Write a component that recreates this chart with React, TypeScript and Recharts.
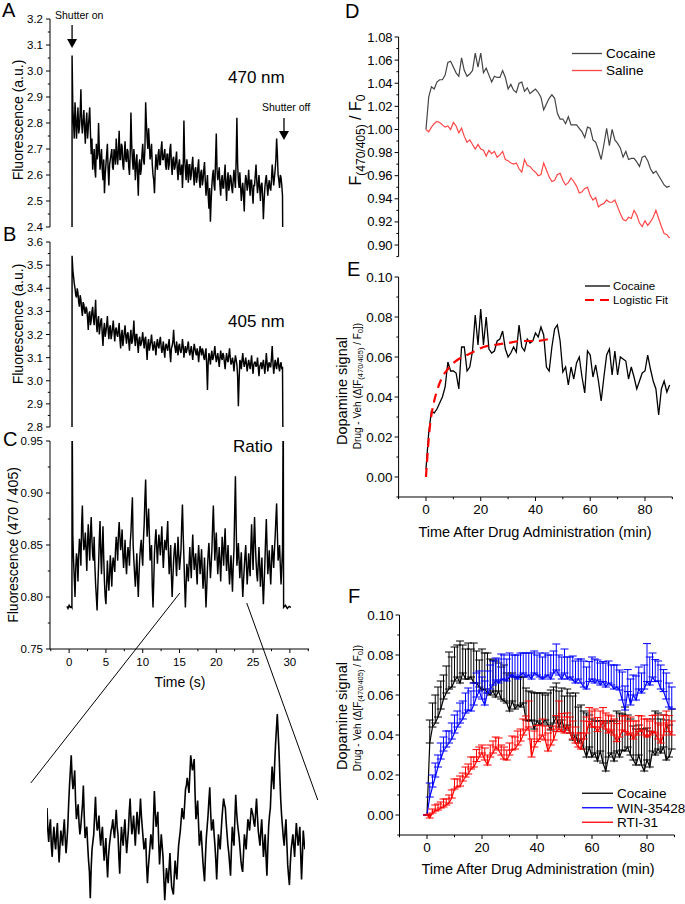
import React from 'react';
import { LineChart, Line, XAxis, YAxis, ReferenceLine, ReferenceDot, ErrorBar, Legend } from 'recharts';

const FONT = '"Liberation Sans", Arial, Helvetica, sans-serif';

// ---------------- Panels A-C : raw traces ----------------
// even samples at 0.4 s + 0.2 s*i, odd samples 0.1 s later
const RAW_T0 = 0.4;
const RAW_DT = 0.2;
const SHUTTER_ON_T = 0.39;
const SHUTTER_OFF_T = 29.1;
const RAW_X_DOMAIN: [number, number] = [-2.6, 32.6];

const trace470 = [
  3.06, 2.80, 2.88, 2.74, 2.86, 2.78, 2.93, 2.76, 2.85, 2.72,
  2.84, 2.78, 2.86, 2.68, 2.62, 2.70, 2.59, 2.66, 2.80, 2.62,
  2.70, 2.58, 2.53, 2.64, 2.72, 2.56, 2.66, 2.70, 2.62, 2.68,
  2.74, 2.64, 2.77, 2.66, 2.71, 2.62, 2.73, 2.65, 2.69, 2.60,
  2.84, 2.66, 2.70, 2.58, 2.68, 2.52, 2.66, 2.62, 2.72, 2.64,
  2.88, 2.74, 2.78, 2.66, 2.72, 2.60, 2.53, 2.68, 2.62, 2.70,
  2.64, 2.73, 2.66, 2.70, 2.62, 2.68, 2.64, 2.72, 2.60, 2.67,
  2.63, 2.69, 2.58, 2.66, 2.61, 2.55, 2.81, 2.62, 2.66, 2.57,
  2.64, 2.60, 2.67, 2.56, 2.63, 2.59, 2.66, 2.55, 2.62, 2.58,
  2.65, 2.52, 2.60, 2.47, 2.42, 2.56, 2.62, 2.54, 2.76, 2.58,
  2.63, 2.52, 2.60, 2.55, 2.64, 2.50, 2.61, 2.56, 2.59, 2.53,
  2.62, 2.55, 2.82, 2.58, 2.61, 2.50, 2.57, 2.46, 2.60, 2.54,
  2.62, 2.52, 2.58, 2.49, 2.56, 2.64, 2.53, 2.60, 2.50, 2.57,
  2.43, 2.55, 2.60, 2.52, 2.58, 2.54, 2.64, 2.56, 2.62, 2.74,
  2.60, 2.55, 2.59, 2.52,
];
const trace470Odd = [
  2.86, 2.74, 2.82, 2.80, 2.76, 2.84, 2.80, 2.81, 2.78, 2.80,
  2.74, 2.82, 2.76, 2.74, 2.66, 2.62, 2.72, 2.68, 2.70, 2.66,
  2.62, 2.66, 2.60, 2.68, 2.62, 2.64, 2.68, 2.63, 2.70, 2.64,
  2.68, 2.70, 2.66, 2.72, 2.64, 2.68, 2.66, 2.70, 2.63, 2.68,
  2.72, 2.62, 2.66, 2.64, 2.60, 2.64, 2.60, 2.68, 2.66, 2.70,
  2.80, 2.70, 2.72, 2.68, 2.64, 2.58, 2.62, 2.64, 2.68, 2.64,
  2.70, 2.66, 2.68, 2.64, 2.68, 2.62, 2.70, 2.64, 2.66, 2.62,
  2.66, 2.62, 2.64, 2.60, 2.64, 2.62, 2.66, 2.58, 2.62, 2.64,
  2.58, 2.64, 2.60, 2.62, 2.57, 2.63, 2.58, 2.61, 2.56, 2.62,
  2.58, 2.56, 2.52, 2.55, 2.50, 2.60, 2.56, 2.66, 2.62, 2.60,
  2.56, 2.58, 2.55, 2.60, 2.56, 2.58, 2.54, 2.60, 2.55, 2.58,
  2.58, 2.66, 2.64, 2.55, 2.56, 2.54, 2.52, 2.56, 2.58, 2.57,
  2.56, 2.58, 2.53, 2.56, 2.60, 2.58, 2.56, 2.55, 2.56, 2.52,
  2.50, 2.58, 2.56, 2.56, 2.55, 2.58, 2.60, 2.59, 2.66, 2.68,
  2.58, 2.60, 2.56,
];
const trace405 = [
  3.54, 3.45, 3.40, 3.36, 3.38, 3.32, 3.35, 3.28, 3.33, 3.29,
  3.31, 3.22, 3.30, 3.26, 3.32, 3.24, 3.35, 3.21, 3.28, 3.23,
  3.27, 3.15, 3.25, 3.21, 3.28, 3.18, 3.24, 3.20, 3.26, 3.17,
  3.23, 3.19, 3.25, 3.14, 3.22, 3.18, 3.24, 3.16, 3.21, 3.13,
  3.22, 3.17, 3.26, 3.15, 3.20, 3.12, 3.19, 3.16, 3.21, 3.14,
  3.19, 3.09, 3.18, 3.15, 3.20, 3.13, 3.17, 3.11, 3.18, 3.14,
  3.19, 3.12, 3.17, 3.10, 3.16, 3.13, 3.18, 3.08, 3.15, 3.22,
  3.14, 3.17, 3.11, 3.16, 3.12, 3.18, 3.10, 3.15, 3.13, 3.17,
  3.11, 3.15, 3.09, 3.16, 3.12, 3.14, 3.08, 3.15, 3.11, 3.13,
  3.09, 3.14, 2.96, 3.12, 3.07, 3.13, 3.10, 3.15, 3.08, 3.12,
  3.06, 3.13, 3.09, 3.11, 3.05, 3.12, 3.08, 3.14, 3.07, 3.10,
  3.04, 3.11, 3.07, 2.89, 3.09, 3.05, 3.12, 3.06, 3.10, 3.04,
  3.09, 3.05, 3.11, 3.03, 3.08, 3.06, 3.10, 3.02, 3.07, 3.05,
  3.09, 3.03, 3.12, 3.04, 3.08, 3.06, 3.15, 3.03, 3.09, 3.05,
  3.10, 3.04, 3.08, 3.06,
];
const trace405Odd = [
  3.48, 3.42, 3.37, 3.40, 3.34, 3.37, 3.31, 3.34, 3.30, 3.32,
  3.27, 3.29, 3.24, 3.30, 3.27, 3.29, 3.25, 3.26, 3.20, 3.26,
  3.20, 3.22, 3.19, 3.24, 3.22, 3.23, 3.18, 3.23, 3.21, 3.22,
  3.20, 3.22, 3.18, 3.20, 3.15, 3.21, 3.19, 3.20, 3.17, 3.19,
  3.16, 3.21, 3.18, 3.20, 3.16, 3.18, 3.15, 3.18, 3.17, 3.18,
  3.14, 3.16, 3.13, 3.17, 3.16, 3.15, 3.14, 3.16, 3.15, 3.17,
  3.15, 3.14, 3.13, 3.15, 3.14, 3.16, 3.12, 3.14, 3.17, 3.16,
  3.12, 3.14, 3.15, 3.13, 3.14, 3.15, 3.13, 3.12, 3.15, 3.13,
  3.13, 3.12, 3.13, 3.14, 3.11, 3.12, 3.12, 3.13, 3.14, 3.10,
  3.12, 3.06, 3.08, 3.10, 3.11, 3.09, 3.12, 3.11, 3.10, 3.09,
  3.10, 3.10, 3.12, 3.08, 3.09, 3.09, 3.11, 3.10, 3.08, 3.08,
  3.08, 3.09, 3.02, 3.00, 3.08, 3.09, 3.08, 3.08, 3.07, 3.07,
  3.07, 3.08, 3.06, 3.07, 3.08, 3.07, 3.06, 3.06, 3.08, 3.07,
  3.06, 3.07, 3.08, 3.07, 3.06, 3.10, 3.08, 3.06, 3.07, 3.08,
  3.06, 3.07, 3.05,
];
const traceRatio = [
  1.0, 0.835, 0.800, 0.842, 0.815, 0.856, 0.830, 0.888, 0.845, 0.862,
  0.825, 0.870, 0.835, 0.877, 0.840, 0.858, 0.812, 0.787, 0.830, 0.873,
  0.822, 0.868, 0.815, 0.793, 0.835, 0.806, 0.840, 0.810, 0.838, 0.824,
  0.858, 0.835, 0.872, 0.845, 0.865, 0.828, 0.855, 0.822, 0.848, 0.830,
  0.862, 0.896, 0.835, 0.810, 0.842, 0.800, 0.838, 0.855, 0.830, 0.870,
  0.913, 0.858, 0.885, 0.835, 0.850, 0.790, 0.842, 0.865, 0.832, 0.860,
  0.840, 0.868, 0.828, 0.855, 0.845, 0.873, 0.822, 0.850, 0.800, 0.835,
  0.852, 0.820, 0.858, 0.826, 0.845, 0.889, 0.838, 0.790, 0.832, 0.815,
  0.848, 0.818, 0.860, 0.826, 0.842, 0.812, 0.850, 0.822, 0.846, 0.808,
  0.838, 0.790, 0.828, 0.852, 0.818, 0.845, 0.888, 0.835, 0.862, 0.822,
  0.848, 0.815, 0.858, 0.830, 0.866, 0.825, 0.850, 0.812, 0.840, 0.805,
  0.845, 0.916, 0.830, 0.852, 0.818, 0.843, 0.800, 0.828, 0.850, 0.812,
  0.842, 0.820, 0.870, 0.826, 0.877, 0.835, 0.815, 0.848, 0.810, 0.838,
  0.793, 0.832, 0.875, 0.822, 0.845, 0.812, 0.850, 0.828, 0.858, 0.890,
  0.835, 0.850, 0.812, 0.846,
];
const traceRatioOdd = [
  0.860, 0.818, 0.828, 0.836, 0.840, 0.848, 0.870, 0.858, 0.850, 0.845,
  0.852, 0.850, 0.862, 0.855, 0.835, 0.830, 0.800, 0.810, 0.855, 0.842,
  0.848, 0.838, 0.800, 0.812, 0.818, 0.822, 0.826, 0.832, 0.830, 0.845,
  0.848, 0.860, 0.858, 0.852, 0.842, 0.840, 0.835, 0.838, 0.842, 0.852,
  0.880, 0.850, 0.822, 0.825, 0.818, 0.822, 0.848, 0.840, 0.855, 0.895,
  0.880, 0.872, 0.860, 0.842, 0.810, 0.815, 0.855, 0.848, 0.848, 0.850,
  0.855, 0.845, 0.842, 0.850, 0.860, 0.842, 0.835, 0.820, 0.818, 0.846,
  0.835, 0.840, 0.840, 0.835, 0.870, 0.860, 0.812, 0.812, 0.825, 0.832,
  0.832, 0.842, 0.840, 0.835, 0.825, 0.835, 0.836, 0.834, 0.825, 0.822,
  0.812, 0.808, 0.842, 0.835, 0.830, 0.868, 0.862, 0.850, 0.840, 0.835,
  0.832, 0.838, 0.845, 0.850, 0.842, 0.838, 0.828, 0.826, 0.822, 0.830,
  0.882, 0.870, 0.840, 0.835, 0.832, 0.818, 0.815, 0.840, 0.830, 0.826,
  0.830, 0.848, 0.846, 0.855, 0.852, 0.822, 0.832, 0.830, 0.825, 0.812,
  0.812, 0.855, 0.848, 0.832, 0.826, 0.832, 0.840, 0.845, 0.875, 0.862,
  0.842, 0.830, 0.828,
];
const closed470 = 2.0;
const closed405 = 2.5;
const ratioPreTimes = [-0.3, -0.15, 0.0, 0.15, 0.3, 0.38];
const ratioPreValues = [0.791, 0.789, 0.792, 0.790, 0.791, 0.790];
const ratioPostTimes = [29.1, 29.15, 29.4, 29.65, 29.9, 30.15];
const ratioPostValues = [1.0, 0.790, 0.792, 0.789, 0.791, 0.790];

// zoomed inset of the ratio trace (arbitrary units 0-100)
const insetTrace = [
  50, 32, 44, 24, 40, 28, 42, 21, 38, 30,
  44, 26, 40, 62, 78, 60, 70, 44, 52, 36,
  46, 62, 34, 40, 22, 2, 28, 36, 56, 38,
  46, 30, 40, 22, 34, 13, 30, 38, 44, 34,
  49, 36, 15, 40, 30, 44, 26, 38, 55, 36,
  46, 30, 48, 36, 55, 40, 28, 34, 10, 24,
  36, 28, 59, 40, 48, 20, 36, 24, 1, 18,
  10, 26, 8, 4, 22, 12, 30, 38, 50, 44,
  60, 66, 58, 78, 70, 76, 44, 54, 30, 38,
  22, 11, 34, 46, 61, 38, 44, 30, 12, 36,
  28, 44, 55, 50, 36, 26, 14, 40, 30, 57,
  42, 34, 22, 16, 36, 28, 44, 38, 50, 46,
  40, 55, 38, 30, 44, 24, 36, 14, 40, 50,
  72, 60, 84, 100, 80, 54, 40, 30, 44, 20,
  9, 28, 36, 24, 42, 30, 40, 12, 38, 28,
];
const insetTraceOdd = [
  38, 40, 30, 34, 32, 36, 30, 30, 34, 38,
  34, 32, 52, 70, 66, 64, 54, 48, 42, 40,
  52, 46, 38, 30, 16, 18, 32, 46, 44, 40,
  36, 36, 30, 28, 22, 24, 34, 40, 38, 42,
  40, 24, 30, 34, 38, 34, 32, 48, 44, 40,
  38, 40, 42, 46, 46, 34, 30, 20, 18, 30,
  32, 44, 48, 44, 32, 28, 30, 12, 10, 14,
  18, 16, 6, 14, 16, 22, 34, 44, 46, 52,
  62, 62, 68, 74, 72, 58, 48, 42, 34, 30,
  16, 24, 40, 54, 48, 40, 36, 22, 24, 32,
  36, 50, 52, 42, 30, 20, 28, 34, 44, 48,
  38, 28, 18, 26, 32, 36, 42, 44, 48, 42,
  48, 46, 34, 38, 34, 30, 24, 28, 46, 62,
  66, 74, 92, 90, 66, 46, 34, 38, 32, 14,
  20, 32, 30, 34, 36, 34, 26, 24, 32,
];

// ---------------- Panel D ----------------
const dCocaine = [
  1.000, 1.028, 1.037, 1.035, 1.041, 1.043, 1.043, 1.047, 1.058, 1.059,
  1.054, 1.049, 1.046, 1.062, 1.051, 1.046, 1.048, 1.051, 1.066, 1.054,
  1.066, 1.049, 1.053, 1.047, 1.041, 1.046, 1.045, 1.045, 1.051, 1.045,
  1.035, 1.039, 1.034, 1.032, 1.040, 1.041, 1.033, 1.036, 1.031, 1.033,
  1.035, 1.032, 1.028, 1.017, 1.022, 1.027, 1.030, 1.027, 1.014, 1.009,
  1.009, 1.005, 1.011, 1.004, 1.004, 1.004, 1.001, 0.998, 0.993, 1.002,
  1.001, 0.991, 0.989, 0.982, 0.974, 0.987, 1.001, 0.986, 1.000, 0.991,
  0.988, 0.984, 0.976, 0.981, 0.974, 0.975, 0.975, 0.972, 0.968, 0.976,
  0.977, 0.973, 0.966, 0.962, 0.964, 0.960, 0.956, 0.952, 0.950, 0.951,
];
const dSaline = [
  1.000, 0.998, 1.002, 1.005, 1.007, 1.006, 1.004, 1.002, 1.003, 1.000,
  1.006, 1.003, 0.997, 1.001, 0.994, 0.989, 0.991, 0.987, 0.983, 0.987,
  0.983, 0.982, 0.977, 0.982, 0.979, 0.981, 0.976, 0.978, 0.981, 0.974,
  0.973, 0.971, 0.970, 0.971, 0.966, 0.963, 0.974, 0.969, 0.968, 0.965,
  0.963, 0.960, 0.961, 0.971, 0.965, 0.959, 0.955, 0.956, 0.961, 0.962,
  0.956, 0.952, 0.954, 0.958, 0.955, 0.951, 0.945, 0.946, 0.949, 0.950,
  0.943, 0.939, 0.941, 0.933, 0.935, 0.936, 0.939, 0.937, 0.937, 0.939,
  0.933, 0.927, 0.922, 0.921, 0.924, 0.923, 0.930, 0.926, 0.919, 0.916,
  0.921, 0.917, 0.920, 0.924, 0.930, 0.923, 0.916, 0.910, 0.909, 0.906,
];

// ---------------- Panel E ----------------
const eCocaine = [
  0.004, 0.022, 0.033, 0.032, 0.034, 0.037, 0.040, 0.045, 0.0575, 0.053,
  0.053, 0.052, 0.044, 0.065, 0.065, 0.053, 0.055, 0.063, 0.081, 0.066,
  0.084, 0.066, 0.080, 0.064, 0.062, 0.063, 0.068, 0.069, 0.073, 0.064,
  0.060, 0.062, 0.065, 0.0625, 0.076, 0.065, 0.063, 0.069, 0.067, 0.068,
  0.072, 0.070, 0.075, 0.071, 0.055, 0.053, 0.065, 0.074, 0.076, 0.068,
  0.0525, 0.055, 0.046, 0.055, 0.049, 0.057, 0.060, 0.050,
  0.042, 0.063, 0.061, 0.050, 0.056, 0.048, 0.038, 0.050, 0.061, 0.064,
  0.051, 0.063, 0.051, 0.060, 0.059, 0.058, 0.049, 0.055, 0.050, 0.044,
  0.048, 0.052, 0.053, 0.061, 0.054, 0.048, 0.044, 0.031, 0.044,
  0.048, 0.0425, 0.046,
];
const fitTimes = [0, 0.5, 1, 1.5, 2, 3, 4, 5, 6, 8, 10, 12, 15, 18, 21, 25, 30, 35, 40, 45];
const fitValues = [0, 0.010, 0.019, 0.026, 0.031, 0.038, 0.043, 0.047, 0.050, 0.054, 0.057, 0.059, 0.061, 0.063, 0.065, 0.066, 0.067, 0.068, 0.068, 0.069];

// ---------------- Panel F ----------------
const fCocaine = [
  0.000, 0.036, 0.044, 0.046, 0.049, 0.053, 0.058, 0.061, 0.063, 0.064,
  0.067, 0.069, 0.066, 0.071, 0.068, 0.068, 0.069, 0.066, 0.066, 0.064,
  0.0625, 0.063, 0.061, 0.060, 0.062, 0.059, 0.062, 0.058, 0.057, 0.056,
  0.052, 0.057, 0.053, 0.055, 0.054, 0.056, 0.0475, 0.047, 0.0475, 0.043,
  0.047, 0.045, 0.046, 0.0475, 0.045, 0.0425, 0.046, 0.049, 0.044, 0.0475,
  0.0425, 0.045, 0.041, 0.0375, 0.040, 0.036, 0.038, 0.033, 0.029, 0.034,
  0.029, 0.031, 0.027, 0.032, 0.026, 0.022, 0.029, 0.031, 0.027, 0.032,
  0.029, 0.0325, 0.032, 0.034, 0.030, 0.0275, 0.025, 0.030, 0.025, 0.022,
  0.0275, 0.024, 0.032, 0.030, 0.033, 0.031, 0.034, 0.0275, 0.029, 0.033,
];
const fCocaineErr = [
  0.000, 0.0115, 0.012, 0.014, 0.015, 0.014, 0.012, 0.0135, 0.0185, 0.015,
  0.017, 0.016, 0.021, 0.014, 0.015, 0.018, 0.014, 0.020, 0.016, 0.0135,
  0.0205, 0.018, 0.020, 0.018, 0.0155, 0.018, 0.014, 0.016, 0.018, 0.015,
  0.018, 0.014, 0.016, 0.014, 0.015, 0.013, 0.016, 0.015, 0.014, 0.018,
  0.014, 0.016, 0.015, 0.0125, 0.016, 0.020, 0.018, 0.017, 0.018, 0.016,
  0.017, 0.018, 0.020, 0.022, 0.021, 0.018, 0.017, 0.019, 0.022, 0.016,
  0.019, 0.016, 0.020, 0.015, 0.021, 0.024, 0.018, 0.016, 0.020, 0.020,
  0.022, 0.018, 0.022, 0.016, 0.018, 0.017, 0.018, 0.015, 0.018, 0.021,
  0.016, 0.018, 0.016, 0.022, 0.018, 0.017, 0.016, 0.020, 0.016, 0.020,
];
const fWin = [
  0.000, 0.009, 0.014, 0.019, 0.024, 0.028, 0.032, 0.034, 0.036, 0.038,
  0.041, 0.044, 0.046, 0.048, 0.051, 0.0525, 0.052, 0.055, 0.059, 0.062,
  0.058, 0.055, 0.061, 0.063, 0.065, 0.0675, 0.066, 0.0675, 0.068, 0.067,
  0.069, 0.070, 0.069, 0.068, 0.070, 0.071, 0.069, 0.070, 0.068, 0.071,
  0.070, 0.069, 0.068, 0.069, 0.070, 0.068, 0.071, 0.0725, 0.070, 0.068,
  0.071, 0.068, 0.069, 0.0675, 0.066, 0.068, 0.066, 0.064, 0.063, 0.0667,
  0.068, 0.066, 0.0675, 0.065, 0.0667, 0.064, 0.066, 0.065, 0.063, 0.064,
  0.0625, 0.0575, 0.0525, 0.0617, 0.055, 0.060, 0.0575, 0.063, 0.061, 0.063,
  0.0667, 0.065, 0.069, 0.0667, 0.067, 0.063, 0.0617, 0.058, 0.054, 0.053,
];
const fWinErr = [
  0.000, 0.007, 0.006, 0.007, 0.006, 0.008, 0.007, 0.008, 0.006, 0.008,
  0.009, 0.008, 0.010, 0.009, 0.010, 0.011, 0.010, 0.011, 0.012, 0.010,
  0.011, 0.012, 0.011, 0.012, 0.012, 0.011, 0.012, 0.013, 0.012, 0.011,
  0.012, 0.010, 0.011, 0.012, 0.011, 0.010, 0.012, 0.011, 0.013, 0.011,
  0.010, 0.012, 0.011, 0.012, 0.010, 0.012, 0.011, 0.013, 0.010, 0.011,
  0.012, 0.011, 0.010, 0.012, 0.011, 0.010, 0.012, 0.013, 0.011, 0.010,
  0.011, 0.012, 0.010, 0.011, 0.010, 0.012, 0.011, 0.010, 0.012, 0.011,
  0.010, 0.014, 0.012, 0.011, 0.013, 0.010, 0.012, 0.011, 0.010, 0.012,
  0.019, 0.014, 0.012, 0.011, 0.010, 0.012, 0.011, 0.013, 0.012, 0.011,
];
const fRti = [
  0.000, -0.0015, 0.001, 0.002, 0.0025, 0.0035, 0.004, 0.005, 0.006, 0.0085,
  0.013, 0.014, 0.0145, 0.017, 0.019, 0.0205, 0.023, 0.024, 0.0267, 0.029,
  0.031, 0.0275, 0.025, 0.029, 0.031, 0.034, 0.0325, 0.030, 0.028, 0.0275,
  0.030, 0.0325, 0.033, 0.035, 0.037, 0.040, 0.0425, 0.044, 0.029, 0.034,
  0.0367, 0.038, 0.040, 0.0375, 0.032, 0.035, 0.0375, 0.0417, 0.043, 0.0417,
  0.041, 0.044, 0.041, 0.038, 0.036, 0.034, 0.033, 0.038, 0.041, 0.0467,
  0.044, 0.044, 0.0417, 0.044, 0.0467, 0.043, 0.041, 0.0425, 0.040, 0.0367,
  0.039, 0.0425, 0.0417, 0.040, 0.041, 0.038, 0.040, 0.0417, 0.0425, 0.040,
  0.039, 0.040, 0.0417, 0.041, 0.038, 0.036, 0.040, 0.046, 0.0417, 0.040,
];
const fRtiErr = [
  0.000, 0.002, 0.002, 0.003, 0.003, 0.003, 0.004, 0.003, 0.004, 0.004,
  0.005, 0.004, 0.005, 0.004, 0.005, 0.005, 0.006, 0.005, 0.006, 0.005,
  0.004, 0.006, 0.005, 0.006, 0.006, 0.005, 0.006, 0.005, 0.006, 0.005,
  0.006, 0.007, 0.006, 0.007, 0.006, 0.008, 0.007, 0.013, 0.009, 0.008,
  0.008, 0.007, 0.008, 0.007, 0.009, 0.008, 0.007, 0.008, 0.014, 0.009,
  0.008, 0.007, 0.008, 0.009, 0.008, 0.007, 0.008, 0.009, 0.008, 0.007,
  0.008, 0.009, 0.007, 0.008, 0.007, 0.008, 0.009, 0.007, 0.008, 0.009,
  0.008, 0.007, 0.008, 0.007, 0.008, 0.009, 0.007, 0.008, 0.007, 0.008,
  0.009, 0.007, 0.008, 0.009, 0.008, 0.009, 0.010, 0.006, 0.008, 0.007,
];

// ---------------- ticks ----------------
const aYTicks = [2.4, 2.45, 2.5, 2.55, 2.6, 2.65, 2.7, 2.75, 2.8, 2.85, 2.9, 2.95, 3.0, 3.05, 3.1, 3.15, 3.2];
const aYMajors = [2.4, 2.5, 2.6, 2.7, 2.8, 2.9, 3.0, 3.1, 3.2];
const bYTicks = [2.8, 2.85, 2.9, 2.95, 3.0, 3.05, 3.1, 3.15, 3.2, 3.25, 3.3, 3.35, 3.4, 3.45, 3.5, 3.55, 3.6];
const bYMajors = [2.8, 2.9, 3.0, 3.1, 3.2, 3.3, 3.4, 3.5, 3.6];
const cYTicks = [0.75, 0.775, 0.8, 0.825, 0.85, 0.875, 0.9, 0.925, 0.95];
const cYMajors = [0.75, 0.8, 0.85, 0.9, 0.95];
const cXTicks = [-2.5, 0, 2.5, 5, 7.5, 10, 12.5, 15, 17.5, 20, 22.5, 25, 27.5, 30, 32.5];
const cXMajors = [0, 5, 10, 15, 20, 25, 30];
const dYTicks = [0.89, 0.9, 0.91, 0.92, 0.93, 0.94, 0.95, 0.96, 0.97, 0.98, 0.99, 1.0, 1.01, 1.02, 1.03, 1.04, 1.05, 1.06, 1.07, 1.08];
const dYMajors = [0.9, 0.92, 0.94, 0.96, 0.98, 1.0, 1.02, 1.04, 1.06, 1.08];
const efYTicks = [-0.01, 0, 0.01, 0.02, 0.03, 0.04, 0.05, 0.06, 0.07, 0.08, 0.09, 0.1];
const efYMajors = [0, 0.02, 0.04, 0.06, 0.08, 0.1];
const efXTicks = [-10, 0, 10, 20, 30, 40, 50, 60, 70, 80, 90];
const efXMajors = [0, 20, 40, 60, 80];

const legendD = [{ name: 'Cocaine', color: '#444444' }, { name: 'Saline', color: '#ff4646' }];
const legendE = [{ name: 'Cocaine', color: '#000000' }, { name: 'Logistic Fit', color: '#ff0000', dash: '9 6', width: 2.2 }];
const legendF = [{ name: 'Cocaine', color: '#000000' }, { name: 'WIN-35428', color: '#0000ff' }, { name: 'RTI-31', color: '#ff0000' }];

// ---------------- rows ----------------
const rawTime = (i: number) => Math.round((RAW_T0 + i * RAW_DT) * 1000) / 1000;
const interleave = (even: number[], odd: number[]) => {
  const out: { t: number; v: number }[] = [];
  even.forEach((v, i) => {
    out.push({ t: rawTime(i), v });
    if (i < odd.length) out.push({ t: Math.round((rawTime(i) + RAW_DT / 2) * 1000) / 1000, v: odd[i] });
  });
  return out;
};
const rows470 = [
  { t: SHUTTER_ON_T, v: closed470 },
  ...interleave(trace470, trace470Odd),
  { t: SHUTTER_OFF_T, v: closed470 },
];
const rows405 = [
  { t: SHUTTER_ON_T, v: closed405 },
  ...interleave(trace405, trace405Odd),
  { t: SHUTTER_OFF_T, v: closed405 },
];
const rowsRatio = [
  ...ratioPreTimes.map((t, i) => ({ t, v: ratioPreValues[i] })),
  ...interleave(traceRatio, traceRatioOdd),
  ...ratioPostTimes.map((t, i) => ({ t, v: ratioPostValues[i] })),
];
const rowsInset: { i: number; v: number }[] = [];
insetTrace.forEach((v, i) => {
  rowsInset.push({ i, v });
  if (i < insetTraceOdd.length) rowsInset.push({ i: i + 0.5, v: insetTraceOdd[i] });
});
const rowsD = dCocaine.map((c, i) => ({ t: i, coc: c, sal: dSaline[i] }));
const rowsE = eCocaine.map((c, i) => ({ t: i, coc: c }));
const rowsFit = fitTimes.map((t, i) => ({ t, fit: fitValues[i] }));
const rowsF = fCocaine.map((c, i) => ({
  t: i,
  coc: c, cocErr: [0, fCocaineErr[i]],
  win: fWin[i], winErr: [0, fWinErr[i]],
  rti: fRti[i], rtiErr: [0, fRtiErr[i]],
}));

// ---------------- helpers ----------------
const isIn = (arr: number[], v: number) => arr.some((m) => Math.abs(m - v) < 1e-9);

const YTick = (props: any) => {
  const { x, y, payload, majors, digits, fontSize, len, gap } = props;
  const v = Number(payload.value);
  const major = isIn(majors, v);
  return (
    <g>
      <line x1={x} x2={x - (major ? len : len * 0.55)} y1={y} y2={y} stroke="#000" strokeWidth={1} />
      {major ? (
        <text x={x - len - gap} y={y + fontSize * 0.35} textAnchor="end" fontSize={fontSize} fontFamily={FONT} fill="#000">
          {v.toFixed(digits)}
        </text>
      ) : null}
    </g>
  );
};

const XTick = (props: any) => {
  const { x, y, payload, majors, fontSize, len, labelDy } = props;
  const v = Number(payload.value);
  const major = isIn(majors, v);
  return (
    <g>
      <line x1={x} x2={x} y1={y} y2={y + (major ? len : len * 0.55)} stroke="#000" strokeWidth={1} />
      {major ? (
        <text x={x} y={y + labelDy} textAnchor="middle" fontSize={fontSize} fontFamily={FONT} fill="#000">
          {String(v)}
        </text>
      ) : null}
    </g>
  );
};

const ArrowHead = (p: any) => (
  <polygon points={`${p.cx - 5},${p.cy - 9} ${p.cx + 5},${p.cy - 9} ${p.cx},${p.cy}`} fill="#000" />
);

const LegendBox = ({ items, fontSize, lineLen, rowH, gap, w }: any) => (
  <svg width={w} height={rowH * items.length} style={{ display: 'block', overflow: 'visible' }}>
    {items.map((it: any, k: number) => {
      const cy = rowH * k + rowH / 2;
      return (
        <g key={it.name}>
          <line x1={0} x2={lineLen} y1={cy} y2={cy} stroke={it.color} strokeWidth={it.width ?? 1.3} strokeDasharray={it.dash} />
          <text x={lineLen + gap} y={cy + fontSize * 0.36} fontSize={fontSize} fontFamily={FONT} fill="#000">{it.name}</text>
        </g>
      );
    })}
  </svg>
);

const axisLine = { stroke: '#000', strokeWidth: 1 };
const TRACE_W = 1.45;

export default function App() {
  return (
    <div style={{ position: 'relative', width: 685, height: 904, background: '#fff', overflow: 'hidden', fontFamily: FONT }}>
      <style>{`html,body{margin:0;padding:0;background:#fff;}`}</style>

      {/* Panel A */}
      <div style={{ position: 'absolute', left: 0, top: 0 }}>
        <LineChart width={321} height={235} data={rows470} margin={{ top: 19, right: 12, bottom: 8, left: 0 }}>
          <XAxis type="number" dataKey="t" domain={RAW_X_DOMAIN} hide allowDataOverflow />
          <YAxis type="number" domain={[2.4, 3.2]} allowDataOverflow ticks={aYTicks} interval={0} width={50}
            tickSize={0} tickMargin={0} tickLine={false} axisLine={axisLine}
            tick={(p: any) => <YTick {...p} majors={aYMajors} digits={1} fontSize={11.5} len={4} gap={3} />} />
          <Line type="linear" dataKey="v" stroke="#000" strokeWidth={TRACE_W} dot={false} activeDot={false} isAnimationActive={false} />
          <ReferenceLine segment={[{ x: 0.4, y: 3.177 }, { x: 0.4, y: 3.115 }]} stroke="#000" strokeWidth={1.3} ifOverflow="visible" />
          <ReferenceDot x={0.4} y={3.0885} r={0} ifOverflow="visible" shape={ArrowHead} />
          <ReferenceLine segment={[{ x: 29.2, y: 2.819 }, { x: 29.2, y: 2.765 }]} stroke="#000" strokeWidth={1.3} ifOverflow="visible" />
          <ReferenceDot x={29.2} y={2.735} r={0} ifOverflow="visible" shape={ArrowHead} />
        </LineChart>
      </div>

      {/* Panel B */}
      <div style={{ position: 'absolute', left: 0, top: 232 }}>
        <LineChart width={321} height={200} data={rows405} margin={{ top: 10, right: 12, bottom: 5, left: 0 }}>
          <XAxis type="number" dataKey="t" domain={RAW_X_DOMAIN} hide allowDataOverflow />
          <YAxis type="number" domain={[2.8, 3.6]} allowDataOverflow ticks={bYTicks} interval={0} width={50}
            tickSize={0} tickMargin={0} tickLine={false} axisLine={axisLine}
            tick={(p: any) => <YTick {...p} majors={bYMajors} digits={1} fontSize={11.5} len={4} gap={3} />} />
          <Line type="linear" dataKey="v" stroke="#000" strokeWidth={TRACE_W} dot={false} activeDot={false} isAnimationActive={false} />
        </LineChart>
      </div>

      {/* Panel C */}
      <div style={{ position: 'absolute', left: 0, top: 432 }}>
        <LineChart width={334} height={373} data={rowsRatio} margin={{ top: 9, right: 25, bottom: 116, left: 0 }}>
          <XAxis type="number" dataKey="t" domain={RAW_X_DOMAIN} allowDataOverflow ticks={cXTicks} interval={0} height={40}
            tickSize={0} tickMargin={0} tickLine={false} axisLine={axisLine}
            tick={(p: any) => <XTick {...p} majors={cXMajors} fontSize={11.5} len={4} labelDy={16.5} />} />
          <YAxis type="number" domain={[0.75, 0.95]} allowDataOverflow ticks={cYTicks} interval={0} width={50}
            tickSize={0} tickMargin={0} tickLine={false} axisLine={axisLine}
            tick={(p: any) => <YTick {...p} majors={cYMajors} digits={2} fontSize={11.5} len={4} gap={3} />} />
          <Line type="linear" dataKey="v" stroke="#000" strokeWidth={TRACE_W} dot={false} activeDot={false} isAnimationActive={false} />
          <ReferenceLine segment={[{ x: 15.04, y: 0.8038 }, { x: -5.2, y: 0.6212 }]} stroke="#000" strokeWidth={1} ifOverflow="visible" />
          <ReferenceLine segment={[{ x: 24.14, y: 0.7942 }, { x: 33.79, y: 0.6048 }]} stroke="#000" strokeWidth={1} ifOverflow="visible" />
        </LineChart>
      </div>

      {/* Inset */}
      <div style={{ position: 'absolute', left: 47, top: 712 }}>
        <LineChart width={258} height={192} data={rowsInset} margin={{ top: 2, right: 0, bottom: 2, left: 0 }}>
          <XAxis type="number" dataKey="i" domain={[0, 149]} hide />
          <YAxis type="number" domain={[0, 100]} hide width={0} />
          <Line type="linear" dataKey="v" stroke="#000" strokeWidth={1.6} dot={false} activeDot={false} isAnimationActive={false} />
        </LineChart>
      </div>

      {/* Panel D */}
      <div style={{ position: 'absolute', left: 340, top: 20 }}>
        <LineChart width={342.35} height={239.6} data={rowsD} margin={{ top: 17, right: 10, bottom: 3, left: 0 }}>
          <XAxis type="number" dataKey="t" domain={[-10, 90]} hide />
          <YAxis type="number" domain={[0.89, 1.08]} ticks={dYTicks} interval={0} width={58.6}
            tickSize={0} tickMargin={0} tickLine={false} axisLine={axisLine}
            tick={(p: any) => <YTick {...p} majors={dYMajors} digits={2} fontSize={13} len={4} gap={2} />} />
          <Line type="linear" dataKey="coc" stroke="#444444" strokeWidth={1.2} dot={false} activeDot={false} isAnimationActive={false} />
          <Line type="linear" dataKey="sal" stroke="#ff4646" strokeWidth={1.2} dot={false} activeDot={false} isAnimationActive={false} />
          <Legend layout="vertical" align="center" verticalAlign="middle"
            wrapperStyle={{ top: 24.5, left: 232, width: 110, height: 34 }}
            content={() => <LegendBox items={legendD} fontSize={13.5} lineLen={30} rowH={17} gap={4} w={110} />} />
        </LineChart>
      </div>

      {/* Panel E */}
      <div style={{ position: 'absolute', left: 340, top: 262 }}>
        <LineChart width={342.35} height={280} data={rowsE} margin={{ top: 15, right: 10, bottom: 0, left: 0 }}>
          <XAxis type="number" dataKey="t" domain={[-10, 90]} ticks={efXTicks} interval={0} height={45}
            tickSize={0} tickMargin={0} tickLine={false} axisLine={axisLine}
            tick={(p: any) => <XTick {...p} majors={efXMajors} fontSize={13.5} len={4} labelDy={17.5} />} />
          <YAxis type="number" domain={[-0.01, 0.1]} ticks={efYTicks} interval={0} width={58.6}
            tickSize={0} tickMargin={0} tickLine={false} axisLine={axisLine}
            tick={(p: any) => <YTick {...p} majors={efYMajors} digits={2} fontSize={13.5} len={4} gap={2} />} />
          <Line type="linear" dataKey="coc" stroke="#000" strokeWidth={1.3} dot={false} activeDot={false} isAnimationActive={false} />
          <Line data={rowsFit} type="monotone" dataKey="fit" stroke="#ff0000" strokeWidth={2.2} strokeDasharray="9 6" dot={false} activeDot={false} isAnimationActive={false} />
          <Legend layout="vertical" align="center" verticalAlign="middle"
            wrapperStyle={{ top: 17, left: 245, width: 100, height: 28 }}
            content={() => <LegendBox items={legendE} fontSize={11.5} lineLen={25} rowH={14} gap={3} w={100} />} />
        </LineChart>
      </div>

      {/* Panel F */}
      <div style={{ position: 'absolute', left: 340, top: 600 }}>
        <LineChart width={344.5} height={280} data={rowsF} margin={{ top: 15, right: 10, bottom: 0, left: 0 }}>
          <XAxis type="number" dataKey="t" domain={[-10, 90]} ticks={efXTicks} interval={0} height={45}
            tickSize={0} tickMargin={0} tickLine={false} axisLine={axisLine}
            tick={(p: any) => <XTick {...p} majors={efXMajors} fontSize={13.5} len={4} labelDy={17} />} />
          <YAxis type="number" domain={[-0.01, 0.1]} ticks={efYTicks} interval={0} width={59.5}
            tickSize={0} tickMargin={0} tickLine={false} axisLine={axisLine}
            tick={(p: any) => <YTick {...p} majors={efYMajors} digits={2} fontSize={13.5} len={4} gap={2} />} />
          <Line type="linear" dataKey="coc" stroke="#000" strokeWidth={1.2} dot={false} activeDot={false} isAnimationActive={false}>
            <ErrorBar dataKey="cocErr" direction="y" width={4} stroke="#000" strokeWidth={1} isAnimationActive={false} />
          </Line>
          <Line type="linear" dataKey="win" stroke="#0000ff" strokeWidth={1.2} dot={false} activeDot={false} isAnimationActive={false}>
            <ErrorBar dataKey="winErr" direction="y" width={4} stroke="#0000ff" strokeWidth={1} isAnimationActive={false} />
          </Line>
          <Line type="linear" dataKey="rti" stroke="#ff0000" strokeWidth={1.2} dot={false} activeDot={false} isAnimationActive={false}>
            <ErrorBar dataKey="rtiErr" direction="y" width={4} stroke="#ff0000" strokeWidth={1} isAnimationActive={false} />
          </Line>
          <Legend layout="vertical" align="center" verticalAlign="middle"
            wrapperStyle={{ top: 185.75, left: 242, width: 110, height: 44 }}
            content={() => <LegendBox items={legendF} fontSize={13.5} lineLen={31} rowH={14.5} gap={4} w={110} />} />
        </LineChart>
      </div>

      {/* text overlay */}
      <svg width={685} height={904} style={{ position: 'absolute', left: 0, top: 0, pointerEvents: 'none' }}>
        <g fontFamily={FONT} fill="#000">
          <text x={2} y={17} fontSize={20}>A</text>
          <text x={3} y={241} fontSize={20}>B</text>
          <text x={3} y={446} fontSize={20}>C</text>
          <text x={345} y={18} fontSize={20}>D</text>
          <text x={347} y={276} fontSize={20}>E</text>
          <text x={348} y={603} fontSize={20}>F</text>

          <text x={55} y={19} fontSize={10.5}>Shutter on</text>
          <text x={262} y={111} fontSize={10.5}>Shutter off</text>
          <text x={228} y={83} fontSize={17}>470 nm</text>
          <text x={228} y={327} fontSize={17}>405 nm</text>
          <text x={233} y={452} fontSize={17}>Ratio</text>

          <text x={23} y={120} fontSize={14} textAnchor="middle" transform="rotate(-90 23 120)">Fluorescence (a.u.)</text>
          <text x={23} y={324} fontSize={14} textAnchor="middle" transform="rotate(-90 23 324)">Fluorescence (a.u.)</text>
          <text x={18} y={545} fontSize={14} textAnchor="middle" transform="rotate(-90 18 545)">Fluorescence (470 / 405)</text>
          <text x={180} y={687} fontSize={14} textAnchor="middle">Time (s)</text>

          <text x={361} y={140} fontSize={16} textAnchor="middle" transform="rotate(-90 361 140)">
            F<tspan fontSize={12} dy={4}>(470/405)</tspan><tspan dy={-4}> / F</tspan><tspan fontSize={12} dy={4}>0</tspan>
          </text>

          <text x={347} y={391} fontSize={14.5} textAnchor="middle" transform="rotate(-90 347 391)">Dopamine signal</text>
          <text x={360.5} y={386} fontSize={10} textAnchor="middle" transform="rotate(-90 360.5 386)">
            Drug - Veh (Δ[F<tspan fontSize={7.5} dy={2.5}>(470/405)</tspan><tspan dy={-2.5}> / F</tspan><tspan fontSize={7.5} dy={2.5}>0</tspan><tspan dy={-2.5}>])</tspan>
          </text>
          <text x={535} y={537} fontSize={14.5} textAnchor="middle">Time After Drug Administration (min)</text>

          <text x={347} y={716} fontSize={14.5} textAnchor="middle" transform="rotate(-90 347 716)">Dopamine signal</text>
          <text x={360.5} y={708} fontSize={10} textAnchor="middle" transform="rotate(-90 360.5 708)">
            Drug - Veh (Δ[F<tspan fontSize={7.5} dy={2.5}>(470/405)</tspan><tspan dy={-2.5}> / F</tspan><tspan fontSize={7.5} dy={2.5}>0</tspan><tspan dy={-2.5}>])</tspan>
          </text>
          <text x={538} y={874} fontSize={14.5} textAnchor="middle">Time After Drug Administration (min)</text>
        </g>
      </svg>
    </div>
  );
}
